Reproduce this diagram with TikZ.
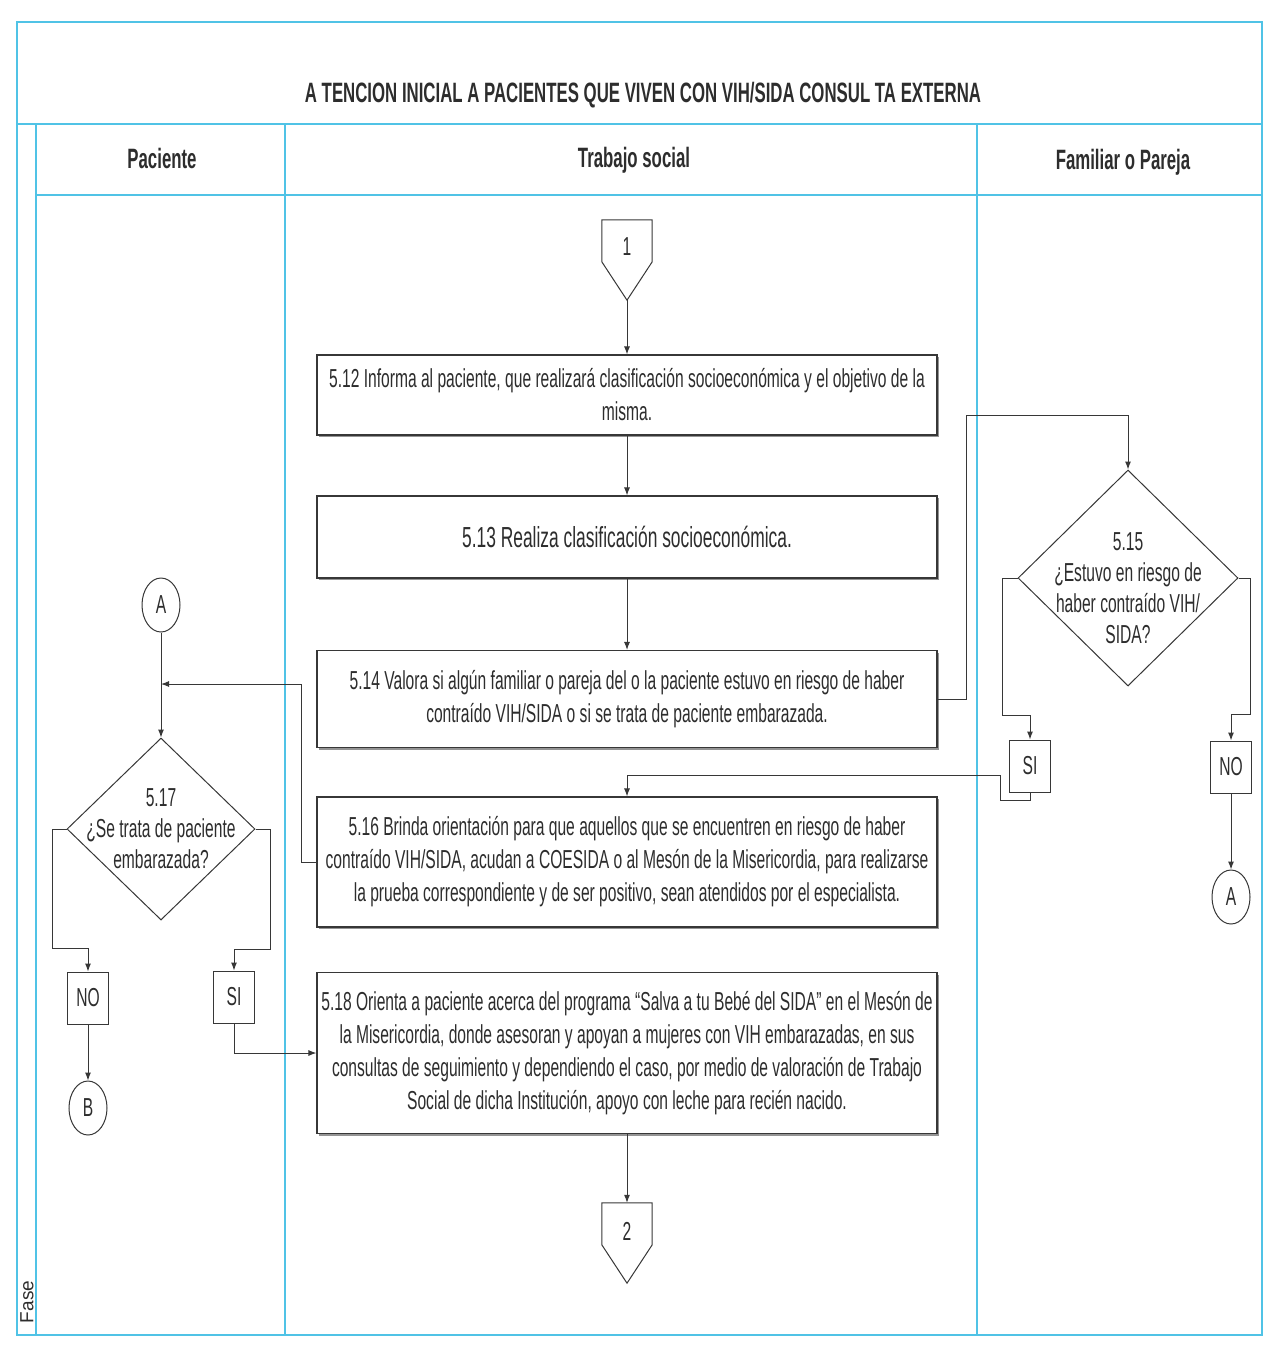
\documentclass[tikz,border=0pt]{standalone}
\usepackage{fontspec}
\setmainfont{Liberation Sans}[FakeStretch=0.6]
\newfontfamily\fasefont{Liberation Sans}
\usetikzlibrary{arrows.meta,shapes.geometric,shadows,calc}
\definecolor{lane}{RGB}{80,195,230}
\definecolor{ink}{RGB}{55,55,55}
\definecolor{txt}{RGB}{45,45,45}
\begin{document}
\begin{tikzpicture}[x=1pt,y=-1pt,
  lanel/.style={draw=lane,line width=1.5pt},
  body/.style={font=\fontsize{26}{33}\selectfont,text=txt},
  proc/.style={body,draw=ink,line width=1.1pt,fill=white,minimum width=620pt,align=center,inner sep=4pt,
    drop shadow={shadow xshift=1.5pt,shadow yshift=-2pt,fill=black!70,opacity=.6}},
  tag/.style={body,draw=ink,line width=1pt,fill=white,minimum width=41pt,minimum height=52pt,inner sep=0pt},
  conn/.style={ellipse,body,draw=ink,line width=1pt,fill=white,minimum width=38pt,minimum height=54pt,inner sep=0pt},
  dec/.style={diamond,draw=ink,line width=1pt,fill=white,inner sep=0pt},
  dtext/.style={body,align=center,font=\fontsize{26}{31}\selectfont},
  pent/.style={inner sep=0pt,minimum width=50pt,minimum height=80pt},
  pline/.style={draw=ink,line width=1pt,fill=white},
  arr/.style={draw=ink,line width=1pt,-{Latex[length=8pt,width=6pt]}},
  head/.style={font=\bfseries\fontsize{28}{32}\selectfont,text=txt}
]
\useasboundingbox (0,0) rectangle (1275,1346);

% lanes
\draw[lanel] (17,22) -- (1262,22) -- (1262,1335) -- (17,1335) -- cycle;
\draw[lanel] (17,124) -- (1262,124);
\draw[lanel] (36,124) -- (36,1335);
\draw[lanel] (36,195) -- (1262,195);
\draw[lanel] (285,124) -- (285,1335);
\draw[lanel] (977,124) -- (977,1335);

\node[font=\bfseries\fontsize{28}{32}\selectfont,text=txt] (title) at (643,95) {A TENCION INICIAL A PACIENTES QUE VIVEN CON VIH/SIDA CONSUL TA EXTERNA};
\node[head] (hp) at (162,158) {Paciente};
\node[head] (ht) at (634,160) {Trabajo social};
\node[head] (hf) at (1123,162) {Familiar o Pareja};
\node[rotate=90,font=\fasefont\fontsize{19}{22}\selectfont,text=txt] (fase) at (27,1302) {Fase};

% off-page connector 1
\node[pent] (c1) at (627,260) {};
\draw[pline] (c1.north west) -- (c1.north east) -- ($(c1.north east)+(0,42)$) -- (c1.south) -- ($(c1.north west)+(0,42)$) -- cycle;
\node[body] (c1t) at ($(c1.north)+(0,27)$) {1};

% process boxes
\node[proc,minimum height=80pt] (b512) at (627,395) {5.12 Informa al paciente, que realizará clasificación socioeconómica y el objetivo de la\\ misma.};
\node[proc,minimum height=82pt,font=\fontsize{29}{34}\selectfont] (b513) at (627,537) {5.13 Realiza clasificación socioeconómica.};
\node[proc,minimum height=97pt] (b514) at (627,699) {5.14 Valora si algún familiar o pareja del o la paciente estuvo en riesgo de haber\\ contraído VIH/SIDA o si se trata de paciente embarazada.};
\node[proc,minimum height=130pt] (b516) at (627,862) {5.16 Brinda orientación para que aquellos que se encuentren en riesgo de haber\\ contraído VIH/SIDA, acudan a COESIDA o al Mesón de la Misericordia, para realizarse\\ la prueba correspondiente y de ser positivo, sean atendidos por el especialista.};
\node[proc,minimum height=161pt] (b518) at (627,1053) {5.18 Orienta a paciente acerca del programa “Salva a tu Bebé del SIDA” en el Mesón de\\ la Misericordia, donde asesoran y apoyan a mujeres con VIH embarazadas, en sus\\ consultas de seguimiento y dependiendo el caso, por medio de valoración de Trabajo\\ Social de dicha Institución, apoyo con leche para recién nacido.};

% off-page connector 2
\node[pent] (c2) at (627,1243) {};
\draw[pline] (c2.north west) -- (c2.north east) -- ($(c2.north east)+(0,42)$) -- (c2.south) -- ($(c2.north west)+(0,42)$) -- cycle;
\node[body] (c2t) at ($(c2.north)+(0,29)$) {2};

% decision 5.15
\node[dec,minimum width=220pt,minimum height=216pt] (d515) at (1128,578) {};
\node[dtext] (d515t) at (1128,588) {5.15\\ ¿Estuvo en riesgo de\\ haber contraído VIH/\\ SIDA?};
\node[tag] (siR) at (1030,766) {SI};
\node[tag] (noR) at (1231,767) {NO};
\node[conn] (aR) at (1231,897) {A};

% paciente lane
\node[conn] (aL) at (161,605) {A};
\node[dec,minimum width=188pt,minimum height=182pt] (d517) at (161,829) {};
\node[dtext] (d517t) at (161,829) {5.17\\ ¿Se trata de paciente\\ embarazada?};
\node[tag] (noL) at (88,998) {NO};
\node[tag] (siL) at (234,997) {SI};
\node[conn] (bL) at (88,1108) {B};

% connectors
\draw[arr] (c1.south) -- (b512.north);
\draw[arr] (b512.south) -- (b513.north);
\draw[arr] (b513.south) -- (b514.north);
\draw[arr] (b514.east) -- (966,699) -- (966,415) -- (1128,415) -- (d515.north);
\draw[arr] (d515.west) -- (1002,578) -- (1002,715) -- (1030,715) -- (siR.north);
\draw[arr] (siR.south) -- (1030,800) -- (1000,800) -- (1000,775) -- (627,775) -- (b516.north);
\draw[arr] (d515.east) -- (1250,578) -- (1250,714) -- (1231,714) -- (noR.north);
\draw[arr] (noR.south) -- (aR.north);
\draw[arr] (aL.south) -- (d517.north);
\draw[arr] (b516.west) -- (301,862) -- (301,684) -- (161,684);
\draw[arr] (d517.west) -- (52,829) -- (52,948) -- (88,948) -- (noL.north);
\draw[arr] (d517.east) -- (270,829) -- (270,949) -- (234,949) -- (siL.north);
\draw[arr] (noL.south) -- (bL.north);
\draw[arr] (siL.south) |- (b518.west);
\draw[arr] (b518.south) -- (c2.north);
\end{tikzpicture}
\end{document}
